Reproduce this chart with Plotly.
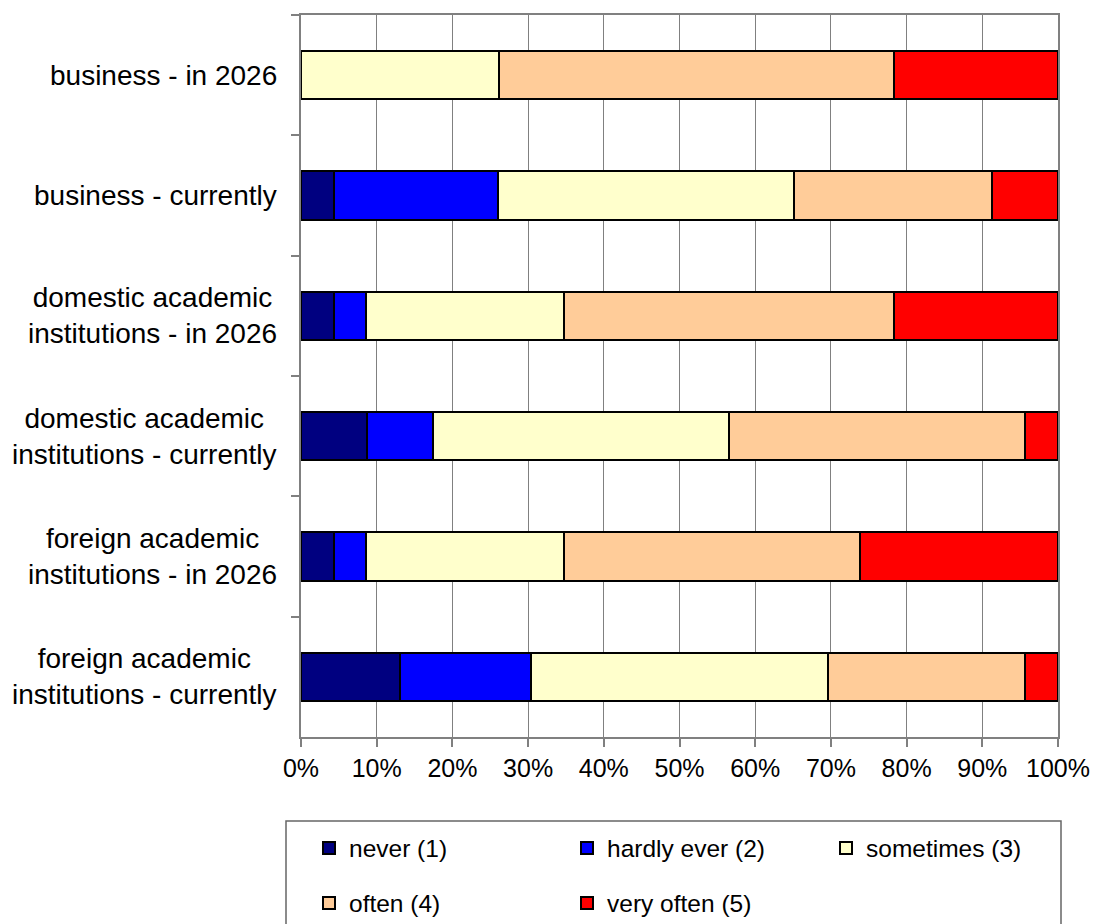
import plotly.graph_objects as go

# Respondent groups, listed top to bottom as drawn
categories = [
    "business - in 2026",
    "business - currently",
    "domestic academic<br>institutions - in 2026",
    "domestic academic<br>institutions - currently",
    "foreign academic<br>institutions - in 2026",
    "foreign academic<br>institutions - currently",
]

# Share of answers (%) per frequency level
never = [0.0, 4.3, 4.3, 8.7, 4.3, 13.0]
hardly_ever = [0.0, 21.7, 4.3, 8.7, 4.3, 17.4]
sometimes = [26.1, 39.1, 26.1, 39.1, 26.1, 39.1]
often = [52.2, 26.1, 43.5, 39.1, 39.1, 26.1]
very_often = [21.7, 8.7, 21.7, 4.3, 26.1, 4.3]

series_names = ["never (1)", "hardly ever (2)", "sometimes (3)", "often (4)", "very often (5)"]
series_values = [never, hardly_ever, sometimes, often, very_often]
series_colors = ["#000080", "#0000FF", "#FFFFCC", "#FFCC99", "#FF0000"]

x_ticks = list(range(0, 101, 10))

FONT = "Liberation Sans, Arial, sans-serif"

W, H = 1096, 924
L, R, T, B = 301, 38, 15, 187
PW, PH = W - L - R, H - T - B


def px_x(px):
    return (px - L) / PW


def px_y(py):
    return (H - B - py) / PH


# Legend grid: three columns, two rows inside one frame
legend_cols = [309, 567, 826]
legend_rows = [848, 903]
legend_slots = [(0, 0), (1, 0), (2, 0), (0, 1), (1, 1)]

fig = go.Figure()
legend_layout = {}
for i, (name, vals, color) in enumerate(zip(series_names, series_values, series_colors)):
    key = "legend" if i == 0 else f"legend{i + 1}"
    fig.add_trace(go.Bar(
        name=name,
        y=categories,
        x=vals,
        orientation="h",
        marker=dict(color=color, line=dict(color="#000000", width=2)),
        legend=key,
        hoverinfo="name+x",
    ))
    col, row = legend_slots[i]
    legend_layout[key] = dict(
        x=px_x(legend_cols[col]),
        y=px_y(legend_rows[row]),
        xanchor="left",
        yanchor="middle",
        orientation="h",
        font=dict(family=FONT, size=24.5, color="#000000"),
        bgcolor="rgba(0,0,0,0)",
        borderwidth=0,
        itemwidth=30,
    )

# Category labels, lines centred on each other and right-aligned to the axis
for cat in categories:
    fig.add_annotation(
        x=0, xref="paper", y=cat, yref="y",
        text=cat, showarrow=False,
        xanchor="right", yanchor="middle", align="center",
        xshift=-22,
        font=dict(family=FONT, size=28, color="#000000"),
    )

# Legend frame
fig.add_shape(
    type="rect", xref="paper", yref="paper",
    x0=px_x(286), x1=px_x(1061), y0=px_y(821), y1=px_y(960),
    line=dict(color="#666666", width=1.5),
    fillcolor="rgba(0,0,0,0)",
)

fig.update_layout(
    width=W,
    height=H,
    margin=dict(l=L, r=R, t=T, b=B, pad=0, autoexpand=False),
    barmode="stack",
    barnorm="percent",
    bargap=0.6,
    plot_bgcolor="#FFFFFF",
    paper_bgcolor="#FFFFFF",
    font=dict(family=FONT, color="#000000"),
    xaxis=dict(
        range=[0, 100],
        tickvals=x_ticks,
        ticktext=[f"{v}%" for v in x_ticks],
        showgrid=True,
        gridcolor="#808080",
        gridwidth=1,
        showline=True,
        linecolor="#808080",
        linewidth=2,
        mirror=True,
        ticks="outside",
        ticklen=8,
        tickwidth=1.5,
        tickcolor="#808080",
        tickfont=dict(family=FONT, size=25, color="#000000"),
        zeroline=False,
        automargin=False,
        fixedrange=True,
    ),
    yaxis=dict(
        type="category",
        categoryorder="array",
        categoryarray=categories,
        autorange="reversed",
        showticklabels=False,
        showgrid=False,
        showline=True,
        linecolor="#808080",
        linewidth=2,
        mirror=True,
        ticks="outside",
        tickson="boundaries",
        ticklen=8,
        tickwidth=1.5,
        tickcolor="#808080",
        zeroline=False,
        automargin=False,
        fixedrange=True,
    ),
    showlegend=True,
    **legend_layout,
)

fig.write_html("out.html")
